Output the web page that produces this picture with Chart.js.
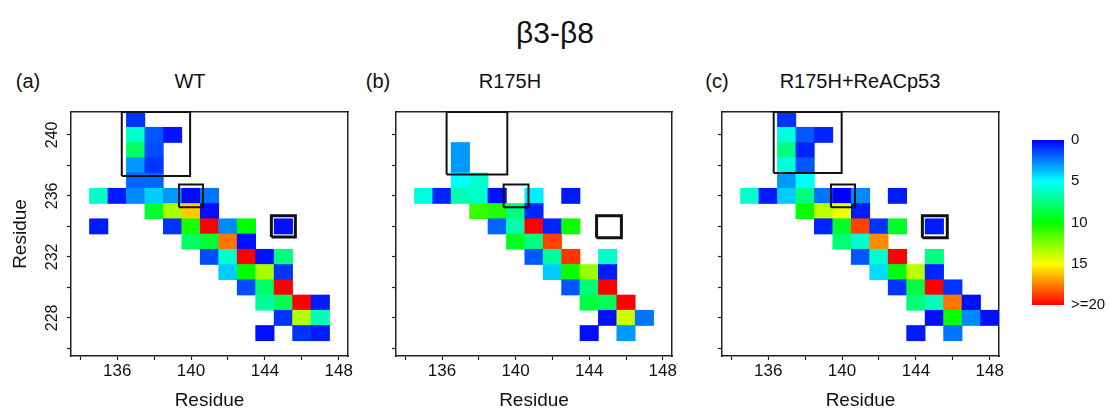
<!DOCTYPE html>
<html>
<head>
<meta charset="utf-8">
<script src="https://cdn.jsdelivr.net/npm/chart.js@4.4.1/dist/chart.umd.min.js"></script>
<style>
  html, body { margin: 0; padding: 0; background: #fff; }
  body { width: 1110px; height: 410px; position: relative; overflow: hidden;
         font-family: "Liberation Sans", Arial, sans-serif; color: #111; }
  .lbl { position: absolute; white-space: nowrap; transform: translate(-50%, -50%); line-height: 1; }
  canvas { position: absolute; }
</style>
</head>
<body>
<div class="lbl" style="left:555px; top:33px; font-size:30px;">β3-β8</div>
<div class="lbl" style="left:28px;  top:81px; font-size:20px;">(a)</div>
<div class="lbl" style="left:190px; top:81px; font-size:20px;">WT</div>
<div class="lbl" style="left:378px; top:81px; font-size:20px;">(b)</div>
<div class="lbl" style="left:510px; top:81px; font-size:20px;">R175H</div>
<div class="lbl" style="left:717px; top:81px; font-size:20px;">(c)</div>
<div class="lbl" style="left:860px; top:81px; font-size:20px;">R175H+ReACp53</div>

<canvas id="panelA" width="360" height="310" style="left:0px; top:100px;"></canvas>
<canvas id="panelB" width="330" height="310" style="left:360px; top:100px;"></canvas>
<canvas id="panelC" width="320" height="310" style="left:690px; top:100px;"></canvas>
<canvas id="colorbar" width="100" height="210" style="left:1010px; top:120px;"></canvas>

<script>
// Axis ticks (residue numbers); minor ticks carry no label
const xTickValues = [134, 136, 138, 140, 142, 144, 146, 148];
const xTickLabels = [136, 140, 144, 148];
const yTickValues = [226, 228, 230, 232, 234, 236, 238, 240];
const yTickLabels = [228, 232, 236, 240];
const xRange = [133.5, 148.5];
const yRange = [225.5, 241.5];

// Contact map cells: [residue on x, residue on y, value]
const wtCells = [
  [137,241,1.0],
  [137,240,6.0],[138,240,1.7],[139,240,0.4],
  [137,239,8.0],[138,239,1.5],
  [137,238,3.0],[138,238,1.0],
  [137,237,2.0],[138,237,2.0],
  [135,236,6.0],[136,236,0.5],[137,236,2.7],[138,236,4.0],[139,236,3.0],[140,236,0.2],[141,236,2.3],
  [138,235,9.0],[139,235,13.3],[140,235,16.0],[141,235,0.3],
  [135,234,0.5],[139,234,1.0],[140,234,10.5],[141,234,20],[142,234,2.7],[143,234,10.0],[145,234,0.3],
  [140,233,8.0],[141,233,9.0],[142,233,17.7],[143,233,0.3],
  [141,232,1.5],[142,232,6.0],[143,232,20],[144,232,0.3],[145,232,7.5],
  [142,231,4.0],[143,231,10.0],[144,231,13.3],[145,231,1.0],
  [143,230,1.5],[144,230,8.0],[145,230,20],
  [144,229,7.0],[145,229,8.3],[146,229,20],[147,229,0.5],
  [145,228,1.0],[146,228,13.5],[147,228,6.5],
  [144,227,0.3],[146,227,1.0],[147,227,0.5]
];

const r175hCells = [
  [137,239,3.0],[137,238,3.0],
  [137,237,5.0],[138,237,6.0],
  [135,236,5.7],[136,236,0.7],[137,236,6.5],[138,236,6.0],[139,236,0.3],[141,236,4.7],[143,236,0.5],
  [138,235,11.0],[139,235,10.6],[140,235,7.6],[141,235,0.7],
  [139,234,2.0],[140,234,6.7],[141,234,20],[142,234,0.7],[143,234,10.2],
  [140,233,9.3],[141,233,7.5],[142,233,18.7],
  [141,232,1.7],[142,232,7.0],[143,232,19.0],[145,232,6.0],
  [142,231,4.0],[143,231,10.2],[144,231,13.0],[145,231,0.5],
  [143,230,1.7],[144,230,7.7],[145,230,20],
  [144,229,8.7],[145,229,8.3],[146,229,20],
  [145,228,0.3],[146,228,14.0],[147,228,2.3],
  [144,227,0.3],[146,227,3.0]
];

const reacpCells = [
  [137,241,1.0],
  [137,240,5.7],[138,240,1.7],[139,240,0.7],
  [137,239,7.5],[138,239,0.7],
  [137,238,5.7],[138,238,1.7],
  [137,237,3.0],[138,237,5.0],
  [135,236,6.0],[136,236,0.5],[137,236,4.0],[138,236,7.5],[139,236,2.3],[140,236,0.0],[141,236,2.7],[143,236,0.5],
  [138,235,10.2],[139,235,13.7],[140,235,14.7],[141,235,0.5],
  [139,234,0.7],[140,234,9.2],[141,234,18.7],[142,234,1.0],[143,234,9.2],[145,234,0.5],
  [140,233,7.7],[141,233,6.0],[142,233,17.3],
  [141,232,1.7],[142,232,6.0],[143,232,20],[145,232,7.5],
  [142,231,4.3],[143,231,9.7],[144,231,13.7],[145,231,0.7],
  [143,230,1.0],[144,230,8.7],[145,230,20],[146,230,1.0],
  [144,229,7.7],[145,229,6.3],[146,229,17.7],[147,229,0.3],
  [145,228,0.3],[146,228,10.2],[147,228,2.7],[148,228,0.3],
  [144,227,0.5],[146,227,2.3]
];

// Highlighted regions: [x from, x to, y from, y to] in residue units
const wtBoxes    = [[136.25,139.95,237.3,241.5],[139.35,140.65,235.25,236.75],[144.35,145.65,233.3,234.7]];
const r175hBoxes = [[136.25,139.55,237.4,241.5],[139.35,140.7,235.25,236.75],[144.4,145.75,233.25,234.7]];
const reacpBoxes = [[136.3,139.98,237.5,241.5],[139.4,140.7,235.25,236.75],[144.35,145.7,233.25,234.7]];

// Colour scale ticks
const colorbarTicks  = [0, 5, 10, 15, 20];
const colorbarLabels = ['0', '5', '10', '15', '>=20'];
const colorbarRange  = [0, 20];

// Rainbow map: blue (0) -> cyan (5) -> green (10) -> yellow (15) -> red (>=20)
function heatColor(v) {
  const t = Math.max(0, Math.min(20, v));
  let r, g, b;
  if (t <= 5)       { r = 0; g = 255 * t / 5; b = 255; }
  else if (t <= 10) { r = 0; g = 255; b = 255 * (10 - t) / 5; }
  else if (t <= 15) { r = 255 * (t - 10) / 5; g = 255; b = 0; }
  else              { r = 255; g = 255 * (20 - t) / 5; b = 0; }
  return `rgb(${Math.round(r)},${Math.round(g)},${Math.round(b)})`;
}

Chart.defaults.font.family = '"Liberation Sans", Arial, sans-serif';
Chart.defaults.color = '#111';
const axisColor = '#222';

function setTicks(values) {
  return scale => { scale.ticks = values.map(v => ({ value: v })); };
}

function buildPanel(canvasId, cells, boxes, showYLabels, yAxisWidth, padRight) {
  const boxSets = boxes.map((b, i) => ({
    type: 'line',
    data: [{x: b[0], y: b[2]}, {x: b[1], y: b[2]}, {x: b[1], y: b[3]}, {x: b[0], y: b[3]}, {x: b[0], y: b[2]}],
    borderColor: '#111',
    borderWidth: i === 2 ? 3 : 2,
    borderJoinStyle: 'miter',
    pointRadius: 0,
    fill: false,
    tension: 0,
    clip: false,
    order: 0
  }));

  return new Chart(document.getElementById(canvasId), {
    type: 'bar',
    data: {
      datasets: [{
        data: cells.map(c => ({ x: c[0], y: [c[1] - 0.5, c[1] + 0.5] })),
        backgroundColor: cells.map(c => heatColor(c[2])),
        borderWidth: 0,
        barPercentage: 1,
        categoryPercentage: 1,
        order: 1
      }, ...boxSets]
    },
    options: {
      responsive: false,
      animation: false,
      events: [],
      layout: { padding: { top: 12, right: padRight, bottom: 0, left: 0 } },
      plugins: { legend: { display: false }, tooltip: { enabled: false } },
      scales: {
        x: {
          type: 'linear', position: 'bottom',
          min: xRange[0], max: xRange[1], offset: false,
          afterBuildTicks: setTicks(xTickValues),
          afterFit: s => { s.height = 54; },
          grid: { display: true, offset: false, drawOnChartArea: false, drawTicks: true,
                  tickLength: 4, tickColor: axisColor, tickWidth: 1.2 },
          border: { display: true, color: axisColor, width: 1.5 },
          ticks: {
            autoSkip: false, maxRotation: 0, padding: 1,
            font: { size: 17 }, color: '#111',
            callback: v => xTickLabels.includes(v) ? String(v) : ''
          },
          title: { display: true, text: 'Residue', font: { size: 19, lineHeight: 1 },
                   color: '#111', padding: { top: 0, bottom: 0 } }
        },
        y: {
          type: 'linear', position: 'left',
          min: yRange[0], max: yRange[1],
          afterBuildTicks: setTicks(yTickValues),
          afterFit: s => { s.width = yAxisWidth; },
          grid: { display: true, drawOnChartArea: false, drawTicks: true,
                  tickLength: 4, tickColor: axisColor, tickWidth: 1.2 },
          border: { display: true, color: axisColor, width: 1.5 },
          ticks: {
            autoSkip: false, minRotation: 90, maxRotation: 90, crossAlign: 'center', padding: 1,
            font: { size: 16 }, color: '#111',
            callback: v => (showYLabels && yTickLabels.includes(v)) ? String(v) : ''
          },
          title: { display: showYLabels, text: 'Residue', font: { size: 19 },
                   color: '#111', padding: { top: 9, bottom: 0 } }
        },
        xTop: {
          type: 'linear', position: 'top', min: xRange[0], max: xRange[1],
          afterFit: s => { s.height = 0; },
          grid: { display: true, drawOnChartArea: false, drawTicks: false },
          border: { display: true, color: axisColor, width: 1.5 },
          ticks: { display: false }
        },
        yRight: {
          type: 'linear', position: 'right', min: yRange[0], max: yRange[1],
          afterFit: s => { s.width = 0; },
          grid: { display: true, drawOnChartArea: false, drawTicks: false },
          border: { display: true, color: axisColor, width: 1.5 },
          ticks: { display: false }
        }
      }
    }
  });
}

buildPanel('panelA', wtCells, wtBoxes, true, 71, 12);
buildPanel('panelB', r175hCells, r175hBoxes, false, 36, 18);
buildPanel('panelC', reacpCells, reacpBoxes, false, 32, 11);

// Colour bar: one floating bar spanning the full value range, filled with the map's gradient
new Chart(document.getElementById('colorbar'), {
  type: 'bar',
  data: {
    labels: [''],
    datasets: [{
      data: [colorbarRange],
      borderWidth: 0,
      barPercentage: 1,
      categoryPercentage: 1,
      backgroundColor: ctx => {
        const area = ctx.chart.chartArea;
        if (!area) return heatColor(0);
        const g = ctx.chart.ctx.createLinearGradient(0, area.top, 0, area.bottom);
        colorbarTicks.forEach(v => g.addColorStop(v / colorbarRange[1], heatColor(v)));
        return g;
      }
    }]
  },
  options: {
    responsive: false,
    animation: false,
    events: [],
    layout: { padding: { top: 20, right: 0, bottom: 25, left: 22 } },
    plugins: { legend: { display: false }, tooltip: { enabled: false } },
    scales: {
      x: { display: false },
      y: {
        position: 'right', reverse: true,
        min: colorbarRange[0], max: colorbarRange[1],
        afterBuildTicks: setTicks(colorbarTicks),
        afterFit: s => { s.width = 46; },
        grid: { display: false, drawTicks: false },
        border: { display: false },
        ticks: {
          autoSkip: false, padding: 7, font: { size: 15 }, color: '#111',
          callback: (v, i) => colorbarLabels[i]
        }
      }
    }
  }
});
</script>
</body>
</html>
